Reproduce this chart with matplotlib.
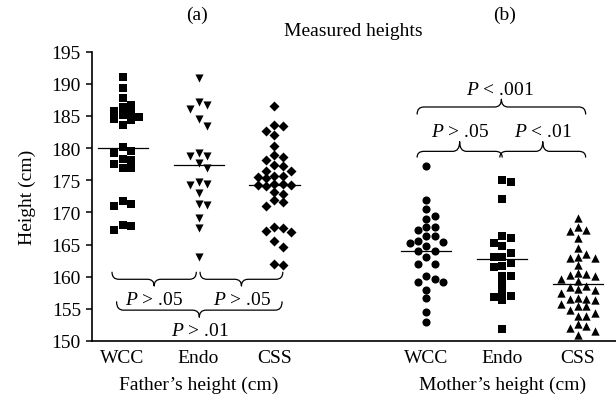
import numpy as np
import matplotlib
matplotlib.use('Agg')
import matplotlib.pyplot as plt
from matplotlib.path import Path
from matplotlib.patches import PathPatch
from matplotlib.transforms import blended_transform_factory

plt.rcParams['font.family'] = ['Liberation Serif', 'DejaVu Serif']
plt.rcParams['mathtext.fontset'] = 'custom'
plt.rcParams['mathtext.it'] = 'Liberation Serif:italic'
plt.rcParams['mathtext.rm'] = 'Liberation Serif'

# ---------------- data ----------------
categories = ['WCC', 'Endo', 'CSS', 'WCC', 'Endo', 'CSS']
group_labels = ['Father\u2019s height (cm)', 'Mother\u2019s height (cm)']

father_wcc = [191.1, 189.3, 187.8, 186.7, 186.4, 185.5, 185.1, 184.9, 185.7, 184.3,
              184.5, 183.6, 180.1, 179.3, 179.5, 178.3, 178.1, 177.5, 176.9, 176.9,
              171.3, 171.0, 171.8, 168.0, 167.3, 167.9]
father_endo = [190.9, 186.7, 186.1, 187.2, 183.5, 184.5, 178.7, 178.7, 179.3, 176.9,
               177.7, 174.7, 174.4, 174.3, 173.0, 171.3, 171.1, 169.1, 167.6, 163.0]
father_css = [186.5, 182.6, 183.4, 183.6, 182.0, 180.3, 178.6, 178.2, 178.9, 177.2,
              176.5, 176.5, 177.3, 175.7, 175.5, 175.7, 175.3, 174.4, 174.3, 174.4,
              174.3, 174.1, 172.9, 173.2, 171.6, 171.0, 172.0, 167.6, 166.9, 167.1,
              167.7, 165.6, 164.6, 161.8, 161.9]
mother_wcc = [177.2, 172.0, 170.5, 169.4, 169.0, 167.8, 167.2, 167.7, 166.3, 166.3,
              165.6, 165.4, 164.8, 165.2, 164.0, 164.0, 163.0, 162.0, 161.9, 160.1,
              159.2, 159.2, 159.6, 158.0, 156.7, 154.5, 153.0]
mother_endo = [174.7, 175.1, 172.1, 166.3, 166.0, 165.2, 164.8, 163.7, 163.0, 163.0,
               162.2, 161.7, 161.5, 160.1, 160.1, 158.9, 157.6, 156.9, 156.3, 157.0,
               151.8]
mother_css = [169.1, 167.7, 167.3, 167.1, 166.0, 164.5, 163.5, 163.0, 162.9, 162.9,
              161.8, 160.6, 160.4, 160.2, 160.1, 159.6, 159.4, 158.6, 158.4, 158.1,
              157.9, 157.5, 156.7, 156.6, 156.3, 156.6, 155.7, 155.4, 155.4, 154.8,
              154.3, 153.9, 153.9, 152.6, 152.3, 152.0, 151.6, 150.9]

series = [father_wcc, father_endo, father_css, mother_wcc, mother_endo, mother_css]
positions = [1, 2, 3, 5, 6, 7]
markers = ['s', 'v', 'D', 'o', 's', '^']
msizes = [30, 34, 26, 34, 30, 36]

left_tests = ['$P$ > .05', '$P$ > .05', '$P$ > .01']
right_tests = ['$P$ > .05', '$P$ < .01', '$P$ < .001']


def swarm_offsets(vals, step=0.11, thr=1.15):
    vals = np.asarray(vals, float)
    order = np.argsort(-vals, kind='stable')
    placed = {}
    offs = np.zeros(len(vals))
    cands = [0, 1, -1, 2, -2, 3, -3, 4, -4]
    for i in order:
        v = vals[i]
        for c in cands:
            if all(abs(v - w) >= thr for w in placed.get(c, [])):
                placed.setdefault(c, []).append(v)
                offs[i] = c * step
                break
    return offs


def brace(ax, x0, x1, y_end, y_mid, y_tip, r=0.09, lw=0.9):
    xc = (x0 + x1) / 2
    verts = [(x0, y_end), (x0, y_mid), (x0 + r, y_mid),
             (xc - r, y_mid),
             (xc, y_mid), (xc, y_tip),
             (xc, y_mid), (xc + r, y_mid),
             (x1 - r, y_mid),
             (x1, y_mid), (x1, y_end)]
    codes = [Path.MOVETO, Path.CURVE3, Path.CURVE3, Path.LINETO,
             Path.CURVE3, Path.CURVE3, Path.CURVE3, Path.CURVE3,
             Path.LINETO, Path.CURVE3, Path.CURVE3]
    ax.add_patch(PathPatch(Path(verts, codes), fill=False, lw=lw, color='black',
                           capstyle='round', joinstyle='round'))


W, H = 616, 402
fig = plt.figure(figsize=(W / 100, H / 100), dpi=100)
ax = fig.add_axes([92 / W, 60 / H, 524 / W, 289.3 / H])

for vals, pos, mk, ms in zip(series, positions, markers, msizes):
    offs = swarm_offsets(vals)
    ax.scatter(pos + offs, vals, marker=mk, s=ms, color='black', linewidths=0, zorder=3)
    m = np.mean(vals)
    ax.plot([pos - 0.33, pos + 0.33], [m, m], color='black', lw=0.9, zorder=2)

ax.set_xlim(0.596, 7.5)
ax.set_ylim(150, 195)
ax.set_yticks(np.arange(150, 196, 5))
ax.set_xticks(positions)
ax.set_xticklabels(categories)
for s in ['top', 'right']:
    ax.spines[s].set_visible(False)
for s in ['left', 'bottom']:
    ax.spines[s].set_linewidth(1.2)
ax.tick_params(axis='x', length=0, pad=6, labelsize=14)
ax.tick_params(axis='y', length=4, width=1.1, pad=4, labelsize=14)

# braces & p-values, left group (below)
brace(ax, 0.86, 1.97, 160.7, 159.6, 158.55)
brace(ax, 2.02, 3.11, 160.7, 159.6, 158.55)
brace(ax, 0.92, 3.10, 156.1, 154.8, 153.7)
ax.text(1.41, 156.5, left_tests[0], ha='center', va='center', fontsize=14)
ax.text(2.57, 156.5, left_tests[1], ha='center', va='center', fontsize=14)
ax.text(2.02, 151.7, left_tests[2], ha='center', va='center', fontsize=14)

# right group (above)
brace(ax, 4.88, 6.00, 178.6, 179.5, 181.0)
brace(ax, 5.97, 7.10, 178.6, 179.5, 181.0)
brace(ax, 4.88, 7.10, 185.3, 186.4, 187.6)
ax.text(5.44, 182.6, right_tests[0], ha='center', va='center', fontsize=14)
ax.text(6.54, 182.6, right_tests[1], ha='center', va='center', fontsize=14)
ax.text(5.97, 189.1, right_tests[2], ha='center', va='center', fontsize=14)

tr = blended_transform_factory(ax.transData, ax.transAxes)
ax.text(2.0, -0.149, group_labels[0], transform=tr, ha='center', va='center', fontsize=14)
ax.text(6.0, -0.149, group_labels[1], transform=tr, ha='center', va='center', fontsize=14)

fig.text(27.5 / W, 1 - 197.3 / H, 'Height (cm)', rotation=90, ha='center', va='center', fontsize=14)
fig.text(197 / W, 1 - 15 / H, '(a)', ha='center', va='center', fontsize=14)
fig.text(505 / W, 1 - 15 / H, '(b)', ha='center', va='center', fontsize=14)
fig.text(353 / W, 1 - 31 / H, 'Measured heights', ha='center', va='center', fontsize=14)

fig.savefig('out.png', dpi=100)
